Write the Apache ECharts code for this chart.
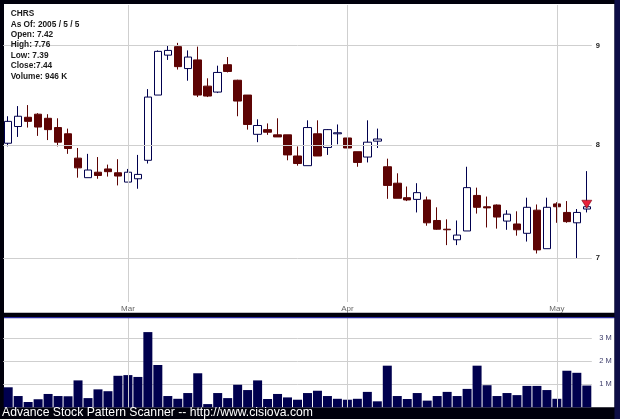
<!DOCTYPE html>
<html>
<head>
<meta charset="utf-8">
<script src="https://cdn.jsdelivr.net/npm/echarts@6/dist/echarts.min.js"></script>
<style>html,body{margin:0;padding:0;background:#000;}#c{width:620px;height:419px;}</style>
</head>
<body>
<div id="c"></div>
<script>
const dates = [
  '2005-02-10','2005-02-11','2005-02-14','2005-02-15','2005-02-16','2005-02-17','2005-02-18',
  '2005-02-22','2005-02-23','2005-02-24','2005-02-25','2005-02-28',
  '2005-03-01','2005-03-02','2005-03-03','2005-03-04','2005-03-07','2005-03-08','2005-03-09',
  '2005-03-10','2005-03-11','2005-03-14','2005-03-15','2005-03-16','2005-03-17','2005-03-18',
  '2005-03-21','2005-03-22','2005-03-23','2005-03-24','2005-03-28','2005-03-29','2005-03-30','2005-03-31',
  '2005-04-01','2005-04-04','2005-04-05','2005-04-06','2005-04-07','2005-04-08','2005-04-11',
  '2005-04-12','2005-04-13','2005-04-14','2005-04-15','2005-04-18','2005-04-19','2005-04-20',
  '2005-04-21','2005-04-22','2005-04-25','2005-04-26','2005-04-27','2005-04-28','2005-04-29',
  '2005-05-02','2005-05-03','2005-05-04','2005-05-05'
];
const opens = [8.02,8.18,8.27,8.30,8.26,8.17,8.11,7.88,7.70,7.75,7.78,7.745,7.66,7.69,7.86,8.49,8.90,8.99,8.76,8.85,
  8.58,8.52,8.80,8.64,8.49,8.105,8.15,8.10,8.10,7.90,7.81,8.11,7.98,8.11,8.07,7.94,7.89,8.04,7.80,7.65,
  7.52,7.505,7.50,7.32,7.245,7.155,7.23,7.54,7.44,7.455,7.315,7.29,7.21,7.41,7.08,7.465,7.39,7.30,7.42];
const highs = [8.28,8.38,8.39,8.31,8.30,8.26,8.16,7.975,7.92,7.89,7.82,7.87,7.78,7.91,8.55,8.95,9.00,9.03,8.95,8.99,
  8.66,8.79,8.88,8.645,8.49,8.25,8.21,8.26,8.10,7.99,8.24,8.24,8.155,8.20,8.24,7.94,8.24,8.16,7.875,7.74,
  7.62,7.65,7.53,7.435,7.33,7.32,7.80,7.61,7.53,7.46,7.41,7.40,7.52,7.46,7.52,7.48,7.49,7.42,7.76];
const lows = [7.99,8.08,8.17,8.09,8.05,7.99,7.92,7.70,7.70,7.69,7.71,7.63,7.66,7.60,7.83,8.49,8.85,8.75,8.635,8.47,
  8.47,8.51,8.72,8.28,8.15,8.03,8.10,8.08,7.86,7.81,7.81,7.90,7.91,8.01,7.91,7.80,7.84,7.975,7.51,7.515,
  7.49,7.39,7.275,7.24,7.11,7.11,7.23,7.38,7.26,7.25,7.24,7.19,7.14,7.04,7.08,7.30,7.30,7.00,7.39];
const closes = [8.23,8.28,8.23,8.175,8.15,8.03,7.97,7.79,7.77,7.72,7.755,7.715,7.75,7.73,8.47,8.94,8.95,8.78,8.88,8.49,
  8.48,8.72,8.73,8.43,8.20,8.19,8.125,8.08,7.91,7.83,8.17,7.90,8.15,8.12,7.975,7.84,8.03,8.06,7.63,7.515,
  7.50,7.565,7.30,7.245,7.24,7.195,7.61,7.435,7.43,7.35,7.375,7.24,7.435,7.07,7.435,7.44,7.31,7.39,7.44];
const volumesK = [870,490,230,350,580,490,480,1170,400,780,700,1370,1400,1320,3270,1840,490,370,620,1480,
  140,620,400,980,750,1170,360,580,430,330,620,720,490,370,330,370,670,260,1810,490,
  360,620,290,490,670,490,800,1810,960,490,620,530,930,930,750,370,1590,1500,946];
const monthTickDates = ['2005-03-01','2005-04-01','2005-05-02'];
const monthTickLabels = ['Mar','Apr','May'];
const priceTicks = [9, 8, 7];
const infoLines = ['CHRS','As Of: 2005 / 5 / 5','Open: 7.42','High: 7.76','Low: 7.39','Close:7.44','Volume: 946 K'];
const footerText = 'Advance Stock Pattern Scanner -- http://www.cisiova.com';

const ohlc = dates.map((d, i) => [opens[i], closes[i], lows[i], highs[i]]);
const FONT = 'Liberation Sans, Arial, sans-serif';
const gridColor = '#cfcfcf';

const chart = echarts.init(document.getElementById('c'), null, {renderer: 'canvas'});
const vLines = monthTickDates.map(d => ({xAxis: d, label: {show: false}}));

chart.setOption({
  animation: false,
  backgroundColor: '#00000c',
  grid: [
    {left: 3.2, right: 28.2, top: 5, bottom: 117},
    {left: 3.2, right: 28.2, top: 318, bottom: 11.7}
  ],
  xAxis: [
    {
      type: 'category', gridIndex: 0, data: dates, boundaryGap: true,
      axisLine: {show: false}, axisTick: {show: false}, splitLine: {show: false},
      axisLabel: {
        interval: (idx, val) => monthTickDates.indexOf(val) >= 0,
        formatter: val => { const k = monthTickDates.indexOf(val); return k >= 0 ? monthTickLabels[k] : ''; },
        color: '#666', fontSize: 8, fontFamily: FONT, margin: 3
      }
    },
    {
      type: 'category', gridIndex: 1, data: dates, boundaryGap: true,
      axisLine: {show: false}, axisTick: {show: false}, splitLine: {show: false}, axisLabel: {show: false}
    }
  ],
  yAxis: [
    {
      type: 'log', gridIndex: 0, min: 6.6477, max: 9.4436, position: 'right',
      axisLine: {show: false}, axisTick: {show: false}, axisLabel: {show: false}, splitLine: {show: false}
    },
    {
      type: 'value', gridIndex: 1, min: 0, max: 3883, interval: 1000, position: 'right',
      axisLine: {show: false}, axisTick: {show: false},
      splitLine: {show: true, showMinLine: false, showMaxLine: false, lineStyle: {color: gridColor, width: 1}},
      axisLabel: {
        color: '#3c3c6a', fontSize: 7.5, fontFamily: FONT, margin: 7.5,
        formatter: v => (v > 0 && v % 1000 === 0) ? (v / 1000) + ' M' : ''
      }
    }
  ],
  series: [
    {
      type: 'candlestick', xAxisIndex: 0, yAxisIndex: 0, data: ohlc, barWidth: 8,
      itemStyle: {color: '#ffffff', color0: '#5e0404', borderColor: '#00004e', borderColor0: '#5e0404', borderWidth: 1},
      markLine: {
        silent: true, symbol: ['none', 'none'], animation: false,
        lineStyle: {color: gridColor, width: 1, type: 'solid'},
        label: {show: true, position: 'end', distance: 4, formatter: p => p.value, color: '#222', fontSize: 7.5, fontWeight: 'bold', fontFamily: FONT},
        data: priceTicks.map(v => ({yAxis: v})).concat(vLines)
      },
      markPoint: {
        silent: true, animation: false,
        data: [{coord: [dates[dates.length - 1], closes[closes.length - 1]], symbol: 'triangle', symbolRotate: 180,
          symbolSize: [10, 8], symbolOffset: [0, -2.5],
          itemStyle: {color: '#e8203a', borderColor: '#7a0010', borderWidth: 0.6}, label: {show: false}}]
      },
      z: 3
    },
    {
      type: 'bar', xAxisIndex: 1, yAxisIndex: 1, data: volumesK, barWidth: 9,
      itemStyle: {color: '#00004e'},
      markLine: {
        silent: true, symbol: ['none', 'none'], animation: false,
        lineStyle: {color: gridColor, width: 1, type: 'solid'},
        label: {show: false}, data: vLines
      }
    }
  ],
  graphic: [
    {type: 'rect', z: -10, shape: {x: 4, y: 4, width: 610.5, height: 308.7}, style: {fill: '#ffffff'}},
    {type: 'rect', z: -10, shape: {x: 4, y: 318, width: 610.5, height: 89.3}, style: {fill: '#ffffff'}},
    {type: 'rect', z: 100, shape: {x: 4, y: 317, width: 610.5, height: 1.2}, style: {fill: '#2a2aa0'}},
    {type: 'rect', z: 100, shape: {x: 614.5, y: 0, width: 5.5, height: 419}, style: {fill: '#0e0e46'}},
    {type: 'text', z: 50, x: 10.7, y: 8.8, style: {text: infoLines.join('\n'), font: 'bold 8.3px ' + FONT, fill: '#1a1a1a', lineHeight: 10.4, verticalAlign: 'top'}},
    {type: 'text', z: 50, x: 2, y: 413, style: {text: footerText, font: '12.2px ' + FONT, fill: '#ffffff', verticalAlign: 'middle'}}
  ]
});
</script>
</body>
</html>
